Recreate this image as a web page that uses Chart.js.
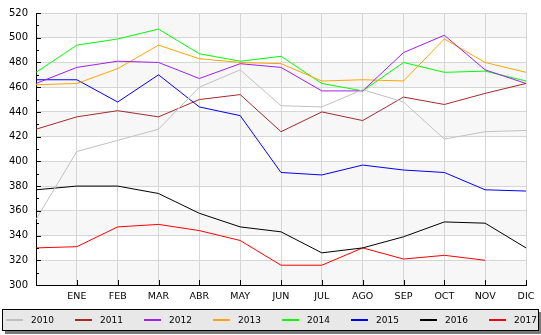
<!DOCTYPE html>
<html>
<head>
<meta charset="utf-8">
<script src="https://cdn.jsdelivr.net/npm/chart.js@4"></script>
<style>
  html, body { margin: 0; padding: 0; background: #fff; }
  #wrap { width: 541px; height: 335px; position: relative; }
</style>
</head>
<body>
<div id="wrap"><canvas id="chart"></canvas></div>
<script>
const months = ["", "ENE", "FEB", "MAR", "ABR", "MAY", "JUN", "JUL", "AGO", "SEP", "OCT", "NOV", "DIC"];

const years = ["2010", "2011", "2012", "2013", "2014", "2015", "2016", "2017"];
const colors = ["#c0c0c0", "#a52a2a", "#a020f0", "#ffa500", "#00ff00", "#0000ff", "#000000", "#ff0000"];

const y2010 = [353, 408, 417, 426, 460, 474, 445, 444, 458, 448, 418, 424, 425];
const y2011 = [426, 436, 441, 436, 450, 454, 424, 440, 433, 452, 446, 455, 463];
const y2012 = [463, 476, 481, 480, 467, 479, 476, 457, 457, 488, 502, 474, 463];
const y2013 = [462, 463, 475, 494, 483, 480, 479, 465, 466, 465, 499, 480, 472];
const y2014 = [472, 494, 499, 507, 487, 481, 485, 463, 457, 480, 472, 473, 465];
const y2015 = [466, 466, 448, 470, 444, 437, 391, 389, 397, 393, 391, 377, 376];
const y2016 = [377, 380, 380, 374, 358, 347, 343, 326, 330, 339, 351, 350, 330];
const y2017 = [330, 331, 347, 349, 344, 336, 316, 316, 330, 321, 324, 320, null];

const series = [y2010, y2011, y2012, y2013, y2014, y2015, y2016, y2017];

const yMin = 300;
const yMax = 520;
const yStep = 20;

const FONT = "DejaVu Sans";

// alternating grey bands behind the grid
const bandsPlugin = {
  id: "bands",
  beforeDraw(chart) {
    const { ctx, chartArea } = chart;
    const y = chart.scales.y;
    ctx.save();
    ctx.fillStyle = "#f7f7f7";
    for (let v = yMin; v < yMax; v += yStep * 2) {
      const top = y.getPixelForValue(v + yStep);
      const bottom = y.getPixelForValue(v);
      ctx.fillRect(chartArea.left, top, chartArea.right - chartArea.left, bottom - top);
    }
    ctx.restore();
  },
};

// small ticks pointing into the plot + legend box
const extrasPlugin = {
  id: "extras",
  afterDatasetsDraw(chart) {
    const { ctx, chartArea } = chart;
    const x = chart.scales.x;
    const y = chart.scales.y;
    ctx.save();
    ctx.strokeStyle = "#000";
    ctx.lineWidth = 1;
    ctx.beginPath();
    for (let v = yMin; v <= yMax; v += yStep / 2) {
      const py = Math.round(y.getPixelForValue(v)) + 0.5;
      const len = v % yStep === 0 ? 5 : 3;
      ctx.moveTo(chartArea.left, py);
      ctx.lineTo(chartArea.left + len, py);
    }
    for (let i = 0; i < months.length; i++) {
      const px = Math.round(x.getPixelForValue(i)) + 0.5;
      ctx.moveTo(px, chartArea.bottom);
      ctx.lineTo(px, chartArea.bottom - 5);
    }
    ctx.stroke();
    ctx.restore();
  },
  afterDraw(chart) {
    const { ctx } = chart;
    const bx = 2, by = 309, bw = 537, bh = 22;
    ctx.save();
    ctx.fillStyle = "#7a7a7a";
    ctx.fillRect(bx + 3, by + 3, bw, bh);
    ctx.fillStyle = "#e8e8e8";
    ctx.fillRect(bx, by, bw, bh);
    ctx.strokeStyle = "#000";
    ctx.lineWidth = 1;
    ctx.strokeRect(bx + 0.5, by + 0.5, bw - 1, bh - 1);

    ctx.font = "9px " + FONT;
    ctx.textBaseline = "middle";
    chart.data.datasets.forEach((ds, i) => {
      const lx = 6 + i * 69;
      const ly = by + bh / 2;
      ctx.strokeStyle = ds.borderColor;
      ctx.lineWidth = 2;
      ctx.beginPath();
      ctx.moveTo(lx, ly);
      ctx.lineTo(lx + 17, ly);
      ctx.stroke();
      ctx.fillStyle = "#000";
      ctx.fillText(ds.label, lx + 25, ly + 0.5);
    });
    ctx.restore();
  },
};

new Chart(document.getElementById("chart"), {
  type: "line",
  data: {
    labels: months,
    datasets: years.map((yr, i) => ({
      label: yr,
      data: series[i],
      borderColor: colors[i],
      backgroundColor: colors[i],
      borderWidth: 1,
      pointRadius: 0,
      tension: 0,
      fill: false,
      spanGaps: false,
    })),
  },
  options: {
    responsive: true,
    maintainAspectRatio: false,
    animation: false,
    layout: { padding: { left: 0, right: 15, top: 5, bottom: 0 } },
    plugins: {
      legend: { display: false },
      tooltip: { enabled: false },
    },
    scales: {
      x: {
        type: "category",
        offset: false,
        grid: { color: "#d6d6d6", drawTicks: false },
        border: { color: "#000" },
        ticks: {
          color: "#000",
          font: { family: FONT, size: 9.5 },
          padding: 6,
          maxRotation: 0,
          autoSkip: false,
        },
        afterFit(scale) { scale.height = 50; },
      },
      y: {
        min: yMin,
        max: yMax,
        grid: { color: "#d6d6d6", drawTicks: false },
        border: { color: "#000" },
        ticks: {
          stepSize: yStep,
          color: "#000",
          font: { family: FONT, size: 10, lineHeight: 1 },
          padding: 8,
        },
        afterFit(scale) { scale.width = 36; },
      },
    },
  },
  plugins: [bandsPlugin, extrasPlugin],
});
</script>
</body>
</html>
